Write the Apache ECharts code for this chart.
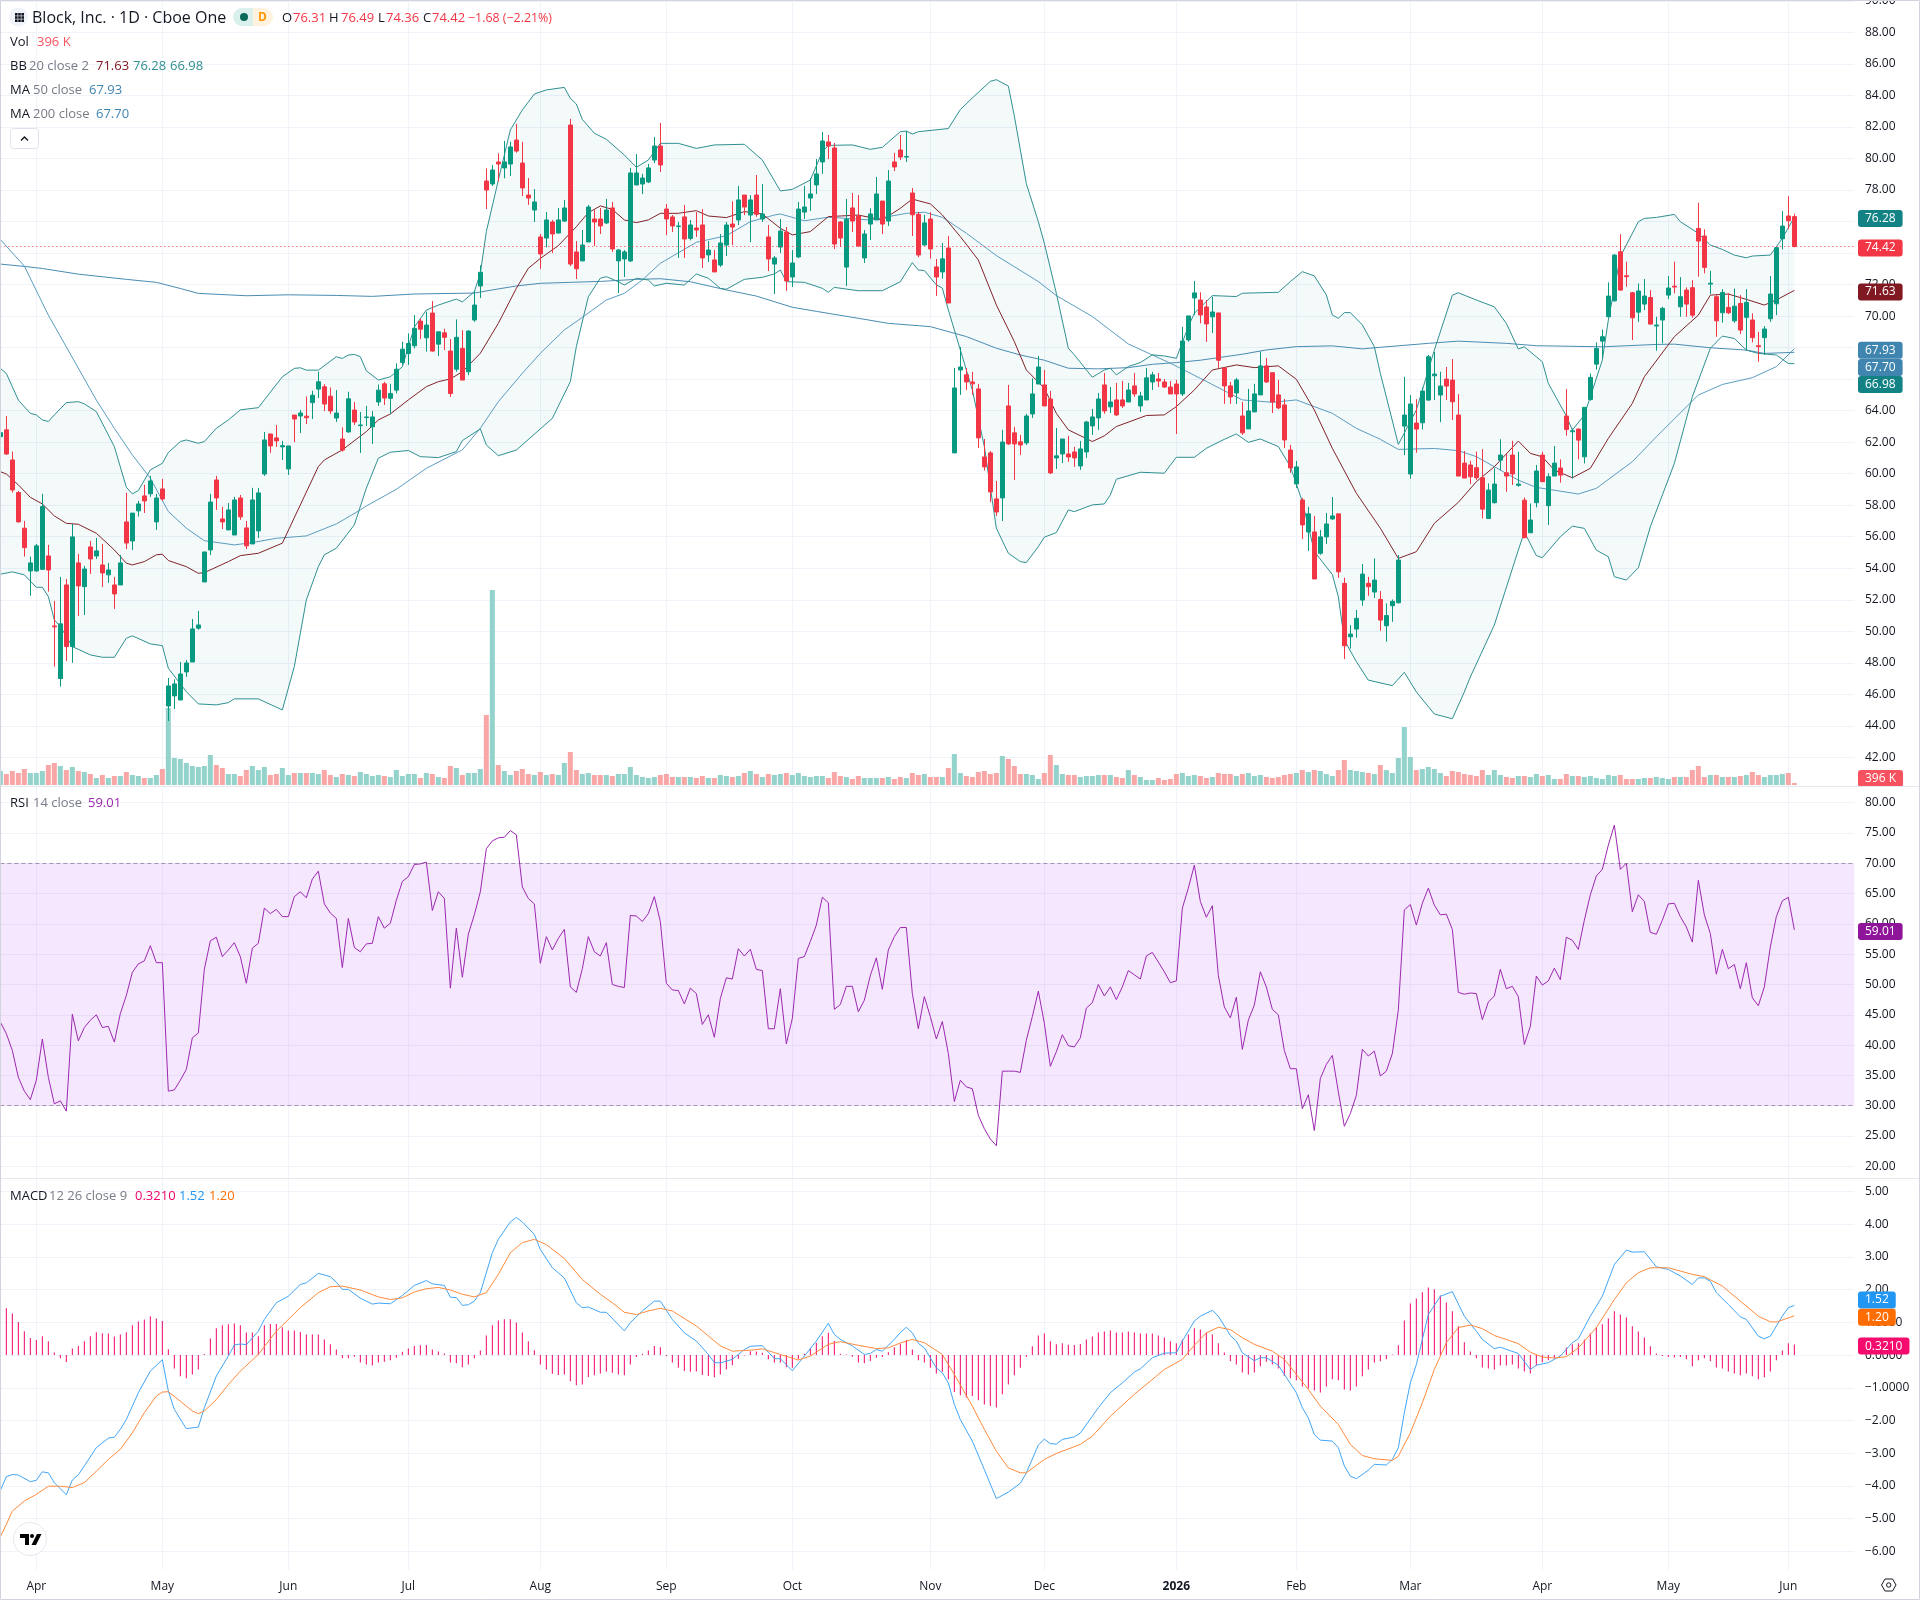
<!DOCTYPE html>
<html>
<head>
<meta charset="utf-8">
<title>Block, Inc. daily chart</title>
<style>html,body{margin:0;padding:0;background:#fff}#chart{width:1920px;height:1600px}</style>
<script src="https://cdn.jsdelivr.net/npm/echarts@6/dist/echarts.min.js"></script>
</head>
<body>
<div id="chart"></div>
<script>
// Daily session prices, oldest first.
const opens = [62.35,62.78,60.87,58.8,56.54,53.83,53.83,53.93,54.78,50.34,
47.0,52.94,49.03,54.34,52.83,55.35,54.78,54.21,53.58,52.94,
52.94,56.94,55.73,57.64,58.59,58.72,56.94,59.03,45.26,45.9,
45.64,47.42,48.05,50.2,53.13,55.16,59.6,57.13,56.43,56.11,
58.46,56.56,55.54,56.37,59.98,62.52,62.27,61.7,60.3,63.72,
63.66,63.65,64.51,65.37,65.51,64.92,63.53,62.2,62.65,64.04,
63.05,63.56,62.97,64.55,65.7,64.78,65.3,67.06,67.63,68.12,
69.68,68.62,70.19,68.22,68.94,67.78,66.63,67.95,66.47,69.75,
71.91,78.57,78.38,79.78,79.4,79.65,81.17,79.71,77.68,76.73,
75.02,74.95,75.97,75.27,76.03,82.12,74.07,73.5,74.7,76.16,
76.16,75.91,76.86,73.5,73.62,73.5,78.32,78.38,78.51,79.9,
80.79,76.79,76.29,75.68,76.29,74.93,75.59,75.78,73.88,73.56,
73.24,74.51,75.84,76.1,77.68,76.41,77.68,76.16,75.02,73.3,
74.38,75.33,72.48,73.75,76.6,77.49,78.32,79.78,81.05,80.67,
75.97,73.11,76.86,76.35,73.69,75.84,76.1,77.3,76.03,79.78,
80.54,80.09,77.81,76.46,74.51,76.16,73.12,72.8,74.32,61.32,
66.58,66.27,65.82,65.38,61.06,61.32,58.4,58.46,64.3,62.59,
62.02,61.95,63.79,65.69,65.63,64.74,61.0,61.25,61.25,61.38,
60.49,61.38,63.03,63.54,65.63,64.24,64.68,64.68,64.55,65.57,
64.3,64.68,65.82,66.01,65.82,65.5,65.69,65.06,68.49,71.15,
71.02,70.58,69.95,70.2,66.71,65.57,65.12,63.66,62.84,63.92,
65.0,66.84,66.41,65.0,64.36,61.5,59.35,58.33,56.3,56.3,
54.95,55.99,57.13,57.45,53.04,49.65,50.14,51.98,53.04,52.49,
52.02,50.35,51.62,51.81,63.02,59.98,63.21,63.23,64.67,66.21,
64.99,66.0,65.94,63.72,60.67,60.55,60.38,59.74,57.16,58.16,
60.86,60.06,61.18,59.26,58.32,56.25,58.16,61.18,57.97,59.85,
60.36,63.66,62.66,62.83,61.07,64.71,66.95,68.41,69.96,70.97,
74.08,72.56,71.48,70.25,70.76,71.18,69.37,69.75,71.33,71.9,
70.59,71.65,71.8,75.56,75.08,72.03,71.23,70.21,70.55,69.7,
70.8,69.92,69.75,68.12,68.63,69.83,70.78,74.91,76.35,76.31];
const highs = [62.9,63.66,61.4,58.9,57.0,54.74,55.54,58.72,55.48,51.93,
53.45,53.32,56.81,54.91,54.15,55.73,55.92,55.54,54.34,53.45,
54.84,58.78,57.5,58.27,59.29,59.86,58.72,59.67,47.04,46.95,
48.05,48.18,50.78,51.29,55.05,58.72,59.86,57.89,58.14,58.53,
58.65,57.0,59.1,59.1,62.65,62.52,63.09,62.08,61.76,63.72,
64.04,64.9,65.26,66.47,65.68,65.47,65.3,62.94,65.2,64.55,
63.91,64.3,63.98,65.66,65.83,65.7,67.0,68.37,68.9,70.06,
69.85,70.27,70.95,69.0,69.2,68.54,69.79,69.1,69.1,71.61,
73.22,79.37,79.59,80.33,81.11,81.07,82.19,81.05,78.76,78.06,
75.21,76.6,76.1,76.86,77.37,82.51,74.76,75.46,77.05,76.73,
76.86,77.43,77.24,74.26,74.19,79.4,80.28,79.02,79.65,81.36,
82.25,77.11,76.41,75.97,77.05,76.1,76.6,76.79,74.76,74.19,
75.21,75.97,77.28,78.26,77.68,77.68,78.95,78.38,75.78,73.81,
76.16,75.65,74.19,77.24,78.26,78.76,79.97,81.68,81.49,80.98,
76.03,77.43,77.81,77.68,75.46,76.84,78.83,77.3,79.27,80.35,
81.49,81.74,78.13,76.6,76.42,76.59,73.63,74.64,75.09,66.71,
68.04,66.71,66.46,65.7,62.2,61.44,59.54,62.78,65.63,62.97,
62.46,63.8,66.05,67.47,66.58,65.25,62.9,62.2,62.4,61.7,
62.08,63.35,64.11,65.12,66.39,65.5,65.76,65.88,65.76,66.39,
65.19,66.71,66.46,66.39,66.01,65.88,65.95,69.31,70.01,72.23,
71.51,71.02,71.22,70.2,66.71,65.82,66.08,64.55,65.38,65.7,
67.75,67.34,66.41,65.95,64.74,61.82,60.81,58.46,57.89,57.32,
56.43,57.51,58.52,57.45,53.4,50.39,51.35,54.27,53.46,54.62,
52.55,51.77,52.02,54.84,66.15,64.99,64.73,65.47,67.53,67.72,
66.47,66.77,67.27,65.05,61.44,60.82,61.4,61.56,59.38,60.34,
62.19,61.24,62.09,61.39,58.49,58.11,60.55,61.39,60.02,61.75,
60.91,65.37,62.87,62.87,64.23,66.36,68.33,69.15,72.14,73.93,
75.2,73.45,71.54,72.07,72.35,71.65,69.96,70.59,72.54,73.45,
72.47,71.82,72.28,77.19,75.5,72.88,71.33,71.71,71.44,71.75,
71.33,71.71,70.17,69.0,69.37,72.54,74.4,76.66,77.61,76.49];
const lows = [62.2,61.19,58.8,56.9,54.74,52.26,53.79,53.89,52.52,47.76,
46.49,48.12,48.0,50.97,51.03,53.64,54.59,52.81,53.07,51.42,
52.94,55.22,55.16,57.28,57.51,58.53,56.43,58.27,44.31,45.07,
45.64,47.1,48.05,50.1,53.13,54.84,57.7,56.49,56.43,56.11,
57.07,55.22,55.54,55.92,59.86,61.32,61.7,60.87,59.92,62.0,
62.58,63.15,63.47,64.8,63.98,63.79,63.28,61.4,62.6,63.09,
61.32,63.03,61.89,64.3,64.36,63.79,65.09,66.9,66.9,67.95,
68.54,67.74,67.74,67.46,67.85,64.87,66.47,65.94,66.25,69.64,
71.15,76.79,78.25,78.53,78.74,78.89,80.37,77.62,77.05,75.97,
73.0,74.36,74.0,75.25,75.97,73.18,72.35,73.5,74.7,74.45,
75.21,75.84,74.07,71.46,72.48,73.43,78.32,77.75,78.44,79.71,
79.14,75.14,75.33,73.69,73.69,74.8,75.02,73.05,73.43,72.8,
73.12,73.81,74.51,75.78,76.41,74.7,76.3,75.97,72.86,71.4,
74.0,71.6,71.85,73.69,76.16,76.67,77.75,79.02,79.97,74.26,
74.4,71.9,75.33,74.4,73.37,74.83,76.1,75.21,75.72,79.2,
79.9,79.78,75.08,73.73,74.47,73.65,71.28,72.38,70.83,61.32,
65.0,65.3,65.0,61.63,60.2,58.19,57.32,57.0,61.82,59.6,
61.19,61.82,63.54,65.69,64.3,59.98,60.3,60.68,60.75,60.43,
60.24,61.0,62.46,62.78,63.8,63.85,63.66,64.17,64.55,64.87,
63.92,64.68,65.31,65.5,65.44,65.06,62.52,64.93,68.38,70.07,
69.54,68.36,68.93,66.71,64.43,64.43,64.43,62.46,62.84,63.92,
65.0,65.76,63.85,64.1,61.63,60.05,59.1,55.86,55.1,53.32,
54.85,55.54,57.07,53.39,48.24,48.9,49.59,51.62,52.25,52.11,
50.03,49.34,50.6,51.77,61.18,59.68,61.33,62.8,64.63,64.67,
63.27,64.67,63.4,59.85,59.72,59.34,59.6,57.16,57.12,58.1,
60.23,58.85,59.28,59.17,55.9,56.25,57.86,59.49,56.74,59.85,
59.43,62.41,59.7,60.91,60.65,64.63,66.6,67.3,69.92,70.91,
71.61,71.86,68.48,69.64,70.38,69.49,67.8,68.27,71.08,71.44,
69.96,69.96,69.89,72.5,72.71,71.4,68.69,69.58,70.13,69.58,
68.86,67.84,68.33,67.1,67.53,69.64,70.06,74.23,75.52,74.36];
const closes = [62.6,61.25,58.97,56.94,55.31,54.34,55.42,57.91,53.89,50.28,
50.47,49.03,55.99,52.88,53.95,54.59,55.1,53.7,53.89,52.37,
54.34,55.6,57.5,58.08,58.27,59.54,58.46,58.4,46.53,46.66,
47.29,47.99,50.15,50.4,55.03,58.2,58.46,56.94,57.7,58.33,
57.26,55.42,58.33,58.78,62.14,61.76,62.08,61.78,61.76,63.47,
63.85,63.55,64.98,65.83,64.42,63.98,63.85,61.5,64.75,63.28,
63.09,63.6,63.6,65.3,64.8,65.09,66.63,67.9,68.26,69.22,
69.17,69.43,67.78,69.0,68.65,65.09,68.65,65.94,69.05,70.7,
72.78,78.0,79.27,79.65,79.78,80.73,80.47,78.13,77.49,77.24,
73.94,76.1,75.21,76.1,76.86,73.3,73.0,74.51,76.92,75.97,
75.72,76.73,74.26,74.19,74.07,79.08,79.08,78.76,79.4,80.79,
79.59,76.16,75.72,75.72,74.89,75.78,75.46,73.69,74.19,72.8,
74.64,75.78,75.65,77.37,76.92,77.37,76.46,76.48,73.62,73.69,
75.4,72.23,73.37,76.79,76.92,77.75,79.02,81.11,80.79,74.57,
74.95,76.14,76.03,74.45,75.21,76.48,77.75,75.84,78.57,79.46,
80.09,80.13,76.43,73.88,75.91,74.26,72.48,73.63,70.83,65.44,
66.77,65.82,65.7,62.27,60.43,58.84,57.57,62.01,61.89,61.89,
61.82,63.66,65.06,66.77,64.3,60.05,61.13,62.2,61.06,61.0,
61.57,63.28,63.6,64.74,63.98,64.55,63.73,64.3,65.31,65.06,
64.93,66.08,66.27,65.88,65.5,65.06,65.06,68.42,70.01,71.47,
70.07,69.5,70.26,67.2,65.57,64.87,65.95,62.59,63.98,65.06,
66.84,65.82,64.55,64.17,62.14,60.36,60.43,56.75,57.45,53.32,
55.99,56.81,57.32,53.77,49.08,49.82,50.82,53.63,52.83,53.25,
50.71,51.0,51.9,54.52,63.72,64.42,62.83,65.24,67.42,66.32,
65.56,65.56,64.56,59.85,59.72,59.81,59.74,57.75,58.96,59.34,
61.18,59.85,59.98,59.34,55.94,57.06,60.17,59.49,59.81,60.67,
59.91,62.81,62.72,62.13,64.21,66.11,67.95,68.69,71.27,73.87,
71.65,72.5,69.89,71.59,71.27,69.49,69.43,70.49,71.78,71.84,
71.23,70.76,70.06,74.76,73.09,72.09,69.7,71.5,70.21,70.63,
69.11,70.87,68.63,68.06,69.18,71.4,74.34,75.71,76.05,74.42];

// Share volume per session, in millions.
const volumes = [2.8,2.2,2.8,2.4,3.2,2.4,2.4,2.8,4,4.4,
3.8,3,3.6,2.8,2.6,2.2,1.4,2,1.4,1.8,
1.8,2.6,2,1.8,1.4,1.4,2,3.2,15.4,5.4,
5.2,4.4,3.8,3.6,3.8,6,4,3.4,2.2,2.2,
1.8,3,3.8,3,3.6,2,2.2,3.4,2,2.4,
2.4,2.4,2.4,2.2,3,2,1.6,2.2,2,1.8,
2.6,2.2,1.8,2,1.8,1.6,3,1.8,2.2,2.2,
1.4,2.4,2.2,1.6,1.4,3.8,3.4,2,2.4,2.4,
3.2,14,39,4,2.8,2,2.8,3.2,2.2,2,
2.6,2,2.2,2,4.4,6.6,3,2.2,2.4,2,
2,2,1.8,2.2,2.2,3.6,2,1.6,1.4,1.6,
2,2.2,1.6,1.6,1.6,1.6,1.4,1.8,1.4,1.4,
2,1.8,1.6,1.8,2.4,2.8,2.2,1.6,2.2,2,
2.2,2.4,2,2.4,1.8,1.6,1.8,1.8,1.4,2.6,
1.8,1.6,1.2,1.8,1.4,1.4,1.4,1.4,1.6,1.2,
1.6,1.4,2.4,2,2.2,1.6,1.6,1.6,3.4,6.2,
2.4,1.8,1.6,2.6,2.8,2.2,2.4,5.8,5.2,3.8,
2.2,2.2,2,1.2,2.4,6,4,2.2,2,2,
1.6,1.8,1.8,2,2,2,1.6,1.4,3,2,
1.6,1,1,1.4,1,1.2,2.2,2.4,1.8,2,
1.8,1.4,1.6,2.4,2.2,2.2,1.8,2.2,2.4,1.8,
2,1.6,1.4,1.6,2,2.2,2.4,3,2.6,3,
2.8,2.2,1.8,3,5,3,2.8,2.6,2.4,2.2,
4,3,2.4,5.4,11.6,5.6,3,3.2,3.6,3.2,
2.4,1.8,2.8,2.6,2.2,2,1.8,3,2,3,
2,1.6,1.4,1.8,1.8,1.6,2.2,1.8,2,1.2,
1.2,2.2,1.8,1.8,1.6,1.8,1.4,1.2,2,1.8,
2,1.2,1.2,1.2,1.4,1.4,1.6,1.4,1.2,1.6,
1.6,1.6,3,3.8,1.6,2,2,1.6,1.6,1.6,
1.8,2,2.6,2,1.6,2,2,2.2,2.4,0.396];

// Overlay vertices as [session index, level].
const bbUpper = [[0,66.68],[1,66.36],[2,65.52],[3,64.67],[5,63.83],[6,63.73],[7,63.41],[8,63.31],[9,63.73],[11,64.51],[13,64.57],[14,64.43],[16,63.94],[19,61.72],[21,59.14],[22,58.72],[23,58.93],[25,60.24],[27,60.66],[28,61.34],[30,62.04],[31,62.14],[33,61.93],[34,62.04],[36,62.88],[38,63.41],[40,64.05],[43,64.19],[44,64.68],[47,66.15],[49,66.68],[50,66.72],[51,66.57],[53,66.57],[56,67.42],[57,67.31],[58,67.53],[59,67.57],[60,67.42],[61,66.53],[63,65.94],[65,66.15],[67,66.78],[69,69.3],[71,70.38],[73,70.7],[76,71.08],[77,70.9],[79,71.55],[80,72.71],[81,75.36],[83,78.63],[85,81.81],[87,83.08],[89,84.09],[91,84.35],[94,84.51],[95,83.82],[96,83.46],[97,82.48],[99,81.6],[101,81.22],[104,80.22],[106,79.44],[108,79.9],[110,80.96],[113,80.96],[116,80.64],[119,80.86],[124,80.9],[127,79.9],[130,77.94],[132,78.04],[135,78.63],[137,80.43],[138,80.83],[142,80.86],[145,80.58],[147,80.71],[150,81.7],[151,81.74],[152,81.55],[153,81.7],[158,81.9],[160,83.1],[162,83.84],[165,84.9],[166,85.0],[168,84.6],[169,82.7],[171,78.4],[173,75.99],[174,74.62],[176,71.45],[178,67.96],[179,67.54],[182,66.12],[184,66.58],[185,66.69],[186,66.27],[188,66.8],[190,67.05],[192,67.54],[194,67.47],[196,67.32],[198,69.33],[199,70.18],[202,71.3],[206,71.24],[207,71.45],[213,71.51],[215,72.19],[217,72.82],[219,72.55],[221,71.34],[222,70.07],[223,69.86],[224,70.22],[225,70.22],[227,69.44],[229,68.06],[230,66.37],[233,61.86],[236,64.04],[239,67.84],[242,71.33],[243,71.48],[246,71.02],[249,70.59],[251,69.54],[253,67.91],[254,68.05],[257,67.1],[258,65.73],[261,63.66],[262,62.77],[264,63.72],[265,64.88],[267,67.21],[268,69.75],[270,73.77],[273,75.99],[274,76.2],[276,76.26],[279,76.45],[280,75.99],[283,75.25],[285,74.51],[287,74.23],[289,73.87],[291,73.7],[292,73.81],[295,73.87],[297,74.93],[299,76.28]];
const bbMiddle = [[0,60.13],[1,59.98],[3,59.29],[5,58.5],[7,58.08],[9,57.32],[11,56.85],[13,56.79],[16,56.22],[19,55.16],[21,54.32],[22,54.21],[24,54.42],[26,54.85],[27,54.89],[28,54.49],[31,54.1],[33,53.68],[34,53.72],[38,54.42],[40,54.8],[43,54.95],[47,55.59],[53,60.45],[54,60.87],[57,61.51],[61,62.67],[63,63.41],[65,63.79],[68,64.68],[71,65.52],[73,65.84],[75,66.01],[77,66.47],[80,67.64],[83,69.54],[86,71.76],[88,73.03],[90,73.66],[93,74.47],[96,75.67],[98,76.56],[100,76.99],[102,76.77],[104,76.1],[106,75.93],[108,76.1],[110,76.52],[113,76.52],[116,76.69],[118,76.35],[121,76.25],[124,76.63],[127,76.48],[130,75.57],[132,75.15],[135,75.36],[138,76.31],[143,76.41],[147,76.1],[150,76.84],[152,77.43],[153,77.32],[155,77.12],[157,76.42],[160,75.04],[163,73.56],[166,70.71],[169,68.38],[171,66.58],[174,65.42],[176,63.83],[178,62.78],[182,62.04],[184,62.4],[186,62.99],[191,63.69],[194,63.73],[196,64.26],[199,65.31],[202,66.58],[206,66.9],[209,66.73],[213,66.84],[216,65.99],[219,64.04],[222,61.61],[226,58.76],[230,56.54],[233,54.62],[236,55.05],[239,56.85],[243,58.18],[246,59.49],[249,60.44],[253,62.07],[255,61.29],[257,61.07],[259,60.23],[262,59.74],[265,60.34],[268,62.24],[272,64.46],[274,66.15],[279,68.69],[283,70.06],[285,71.33],[288,71.4],[291,71.06],[294,70.7],[296,71.02],[299,71.63]];
const bbLower = [[0,53.62],[2,53.77],[4,53.58],[6,52.79],[7,52.79],[8,52.2],[9,50.72],[10,50.3],[12,49.03],[15,48.5],[17,48.35],[19,48.35],[21,49.56],[22,49.71],[25,49.2],[27,49.09],[28,47.65],[31,46.17],[33,45.39],[36,45.33],[38,45.47],[39,45.71],[43,45.71],[47,45.01],[49,47.76],[51,51.99],[53,54.1],[54,54.85],[56,55.27],[59,56.75],[61,59.08],[63,60.98],[65,61.36],[68,61.47],[70,61.08],[73,61.02],[76,61.4],[77,62.1],[80,62.84],[81,61.82],[83,61.14],[86,61.5],[92,63.51],[95,65.84],[96,68.06],[98,71.23],[100,72.4],[101,72.5],[103,72.18],[104,71.97],[106,72.4],[108,72.29],[109,71.91],[111,72.08],[114,71.97],[116,72.67],[118,72.4],[120,71.76],[121,71.7],[124,72.33],[127,72.46],[129,72.67],[130,72.92],[131,72.18],[134,72.14],[137,71.76],[138,71.51],[139,71.82],[143,71.61],[147,71.61],[150,72.18],[152,73.39],[153,72.92],[154,72.89],[156,71.98],[157,71.77],[158,70.39],[160,67.85],[162,65.31],[164,61.72],[166,56.54],[168,54.95],[170,54.42],[171,54.36],[173,55.37],[174,55.97],[176,56.26],[178,57.7],[179,57.59],[182,58.02],[184,58.08],[185,58.65],[186,59.65],[190,60.09],[194,60.03],[196,61.04],[199,61.04],[201,61.61],[204,62.18],[206,62.52],[208,61.99],[210,62.2],[213,61.72],[215,60.45],[217,58.23],[219,55.06],[222,53.6],[223,52.19],[224,49.44],[226,48.07],[228,46.9],[232,46.55],[234,47.4],[236,46.15],[239,44.75],[242,44.45],[244,46.15],[245,47.1],[249,50.4],[253,55.15],[254,56.3],[256,54.8],[257,54.67],[260,56.0],[262,56.67],[264,56.53],[266,55.15],[268,54.73],[269,53.46],[271,53.25],[273,54.03],[275,56.63],[279,60.65],[282,64.88],[285,67.95],[287,68.73],[289,68.58],[291,67.84],[293,67.63],[294,67.6],[296,67.53],[298,66.99],[299,66.98]];
const ma50 = [[0,74.86],[4,73.17],[8,70.06],[16,64.67],[19,62.88],[22,61.19],[25,59.71],[28,57.6],[31,56.54],[34,55.75],[39,55.48],[42,55.63],[46,55.9],[51,56.05],[56,56.81],[60,57.7],[61,57.95],[66,59.01],[71,60.34],[77,61.51],[80,62.88],[83,64.57],[87,66.37],[90,67.64],[94,69.12],[97,69.92],[101,71.02],[104,71.44],[107,72.29],[110,73.35],[116,74.68],[121,75.1],[125,75.99],[129,76.41],[130,76.48],[134,76.05],[138,76.27],[145,76.1],[151,76.52],[154,76.59],[157,76.27],[161,75.26],[166,73.84],[173,72.19],[176,71.3],[182,69.97],[188,68.23],[195,67.01],[200,66.05],[207,64.68],[212,64.53],[216,64.68],[222,63.83],[226,62.88],[230,62.18],[233,61.54],[239,61.6],[243,61.46],[246,61.08],[249,60.44],[253,59.59],[256,59.13],[263,58.71],[266,59.07],[272,60.76],[276,62.34],[283,64.99],[287,65.66],[292,66.09],[296,66.79],[299,67.93]];
const ma200 = [[0,73.3],[4,73.15],[7,73.02],[13,72.66],[21,72.33],[26,72.14],[30,71.75],[33,71.44],[41,71.29],[48,71.35],[56,71.31],[62,71.25],[69,71.4],[79,71.46],[82,71.66],[86,71.91],[90,72.08],[95,72.14],[100,72.2],[106,72.33],[110,72.37],[115,72.18],[121,71.66],[126,71.27],[132,70.56],[136,70.3],[143,69.86],[148,69.54],[153,69.39],[155,69.33],[161,68.7],[166,67.96],[170,67.53],[174,67.2],[178,66.69],[183,66.65],[188,66.73],[192,66.94],[196,67.05],[200,67.2],[207,67.58],[211,67.85],[216,68.06],[222,68.11],[227,67.92],[230,68.02],[238,68.27],[243,68.41],[251,68.27],[256,68.12],[267,68.05],[276,68.2],[279,68.22],[285,67.99],[291,67.84],[294,67.63],[299,67.7]];

// Relative strength, one reading per session.
const rsi = [43.8,41.9,39.1,34.7,32.4,31.0,34.2,41.0,34.7,30.3,
30.8,29.1,45.1,40.7,42.9,44.1,45.0,42.9,43.1,40.5,
45.2,48.2,52.0,53.4,53.9,56.4,53.6,53.6,32.4,32.6,
34.2,36.0,41.2,42.0,52.5,57.2,57.8,54.6,55.7,56.9,
54.6,50.2,56.0,56.8,62.6,61.7,62.4,61.2,61.2,64.5,
65.3,64.3,67.4,68.7,63.3,61.8,60.9,52.8,60.9,56.1,
55.4,56.7,56.8,61.2,59.3,60.1,63.9,67.0,67.8,69.8,
69.9,70.2,62.2,65.3,64.2,49.4,59.3,51.2,58.3,61.5,
65.3,72.4,73.7,74.2,74.3,75.4,74.7,66.1,64.2,63.3,
53.5,57.9,55.7,57.6,59.1,49.6,48.7,52.6,57.9,55.4,
54.7,56.9,50.0,49.7,49.5,61.4,61.3,60.4,61.7,64.5,
60.4,50.2,49.1,49.0,46.8,49.4,48.5,43.4,45.0,41.3,
47.7,51.1,50.9,55.9,54.7,55.8,52.5,52.3,42.7,42.7,
49.3,40.2,44.4,54.3,54.6,57.1,59.8,64.4,63.5,45.9,
46.7,49.7,49.7,45.5,47.4,51.5,54.4,49.2,55.7,57.9,
59.4,59.4,48.5,42.7,48.0,44.7,41.0,43.9,38.6,30.7,
34.2,33.1,32.8,28.4,26.2,24.5,23.4,35.7,35.7,35.7,
35.5,40.8,44.7,48.9,43.6,36.5,38.9,41.7,39.9,39.7,
41.2,46.1,47.0,50.0,48.1,49.6,47.5,49.6,52.3,51.6,
50.9,54.7,55.3,53.7,52.1,50.3,50.6,62.6,65.9,69.7,
63.7,61.1,63.0,51.5,46.3,44.5,47.9,39.3,44.1,46.6,
52.1,49.6,45.9,45.0,39.1,36.1,36.1,29.5,31.8,25.9,
34.5,36.8,38.3,32.3,26.6,28.7,31.7,39.3,38.2,39.0,
34.9,35.7,38.6,45.8,62.3,63.2,59.8,63.4,65.9,63.1,
61.5,61.6,59.1,48.7,48.4,48.6,48.5,44.2,47.1,48.1,
52.5,49.3,49.7,48.0,40.1,43.1,51.4,49.9,50.6,52.7,
50.8,57.8,57.3,55.8,60.6,64.8,67.9,69.0,73.0,76.3,
69.0,70.0,62.0,64.8,63.7,58.6,58.3,60.6,63.3,63.4,
61.2,59.5,57.0,67.2,61.5,58.4,51.7,55.8,52.6,53.3,
49.3,53.6,47.8,46.5,49.6,56.2,61.2,63.8,64.4,59.01];

// MACD line vertices and signal line vertices as [session index, level].
const macdLine = [[0,-4.14],[1,-3.72],[2,-3.65],[3,-3.67],[5,-3.87],[6,-3.83],[7,-3.57],[8,-3.6],[9,-3.9],[11,-4.27],[12,-3.82],[13,-3.66],[14,-3.39],[16,-2.83],[18,-2.54],[19,-2.51],[20,-2.27],[21,-1.97],[23,-1.15],[25,-0.49],[27,-0.14],[28,-1.1],[29,-1.66],[31,-2.25],[33,-2.2],[34,-1.61],[36,-0.64],[38,-0.03],[39,0.31],[40,0.34],[41,0.32],[43,0.73],[44,1.09],[46,1.6],[48,1.8],[50,2.16],[51,2.21],[53,2.5],[55,2.4],[56,2.23],[57,2.01],[58,2.01],[60,1.74],[62,1.56],[63,1.59],[65,1.57],[67,1.82],[69,2.13],[71,2.28],[72,2.18],[74,2.13],[75,1.77],[76,1.76],[77,1.52],[78,1.54],[79,1.65],[80,1.91],[82,3.13],[83,3.54],[85,4.07],[86,4.21],[87,4.07],[89,3.69],[90,3.23],[92,2.67],[94,2.36],[96,1.6],[97,1.45],[98,1.47],[100,1.31],[101,1.31],[104,0.74],[105,0.99],[107,1.35],[109,1.65],[110,1.65],[112,1.09],[114,0.68],[116,0.43],[118,0.02],[119,-0.23],[120,-0.24],[122,-0.13],[124,0.17],[125,0.27],[127,0.29],[128,0.09],[129,-0.11],[130,-0.11],[132,-0.48],[134,-0.03],[136,0.43],[138,0.97],[139,0.63],[140,0.48],[142,0.28],[144,0.02],[145,0.05],[146,0.17],[147,0.12],[149,0.48],[150,0.69],[151,0.85],[152,0.68],[153,0.36],[154,0.22],[156,-0.39],[157,-0.54],[158,-0.85],[159,-1.51],[160,-1.97],[162,-2.63],[164,-3.5],[166,-4.39],[168,-4.19],[170,-3.92],[171,-3.6],[173,-2.75],[174,-2.57],[175,-2.71],[176,-2.72],[177,-2.58],[179,-2.5],[180,-2.38],[182,-1.87],[183,-1.61],[185,-1.15],[187,-0.85],[189,-0.52],[190,-0.42],[192,-0.08],[194,0.06],[196,0.07],[197,0.43],[199,1.04],[200,1.19],[202,1.37],[203,1.19],[205,0.6],[206,0.43],[207,0.07],[209,-0.17],[210,-0.08],[211,-0.08],[213,-0.31],[215,-0.87],[216,-1.15],[217,-1.61],[218,-1.92],[219,-2.43],[220,-2.6],[222,-2.63],[223,-2.83],[224,-3.39],[225,-3.7],[226,-3.78],[228,-3.52],[229,-3.34],[231,-3.36],[232,-3.19],[233,-2.83],[234,-1.76],[235,-0.85],[236,-0.29],[237,0.48],[238,1.24],[240,1.8],[242,1.94],[244,1.19],[246,0.73],[247,0.48],[249,0.2],[250,0.24],[253,0.05],[255,-0.44],[256,-0.31],[258,-0.23],[260,-0.03],[262,0.38],[263,0.5],[265,1.19],[267,1.8],[269,2.77],[271,3.21],[272,3.15],[274,3.16],[276,2.7],[278,2.62],[280,2.42],[282,2.16],[283,2.36],[284,2.36],[285,2.26],[286,1.91],[288,1.55],[290,1.17],[291,1.09],[293,0.58],[294,0.5],[295,0.58],[297,1.19],[298,1.45],[299,1.52]];
const signalLine = [[0,-5.56],[1,-5.18],[2,-4.77],[4,-4.46],[6,-4.26],[8,-4.01],[10,-4.01],[12,-4.05],[14,-3.9],[16,-3.55],[18,-3.19],[20,-2.88],[22,-2.38],[24,-1.76],[26,-1.25],[27,-1.13],[28,-1.12],[30,-1.41],[32,-1.71],[33,-1.79],[34,-1.71],[36,-1.36],[38,-0.9],[40,-0.49],[43,0.02],[46,0.73],[50,1.45],[53,1.91],[55,2.09],[57,2.11],[60,1.99],[63,1.78],[65,1.7],[67,1.75],[69,1.93],[71,2.03],[73,2.07],[75,1.99],[77,1.86],[79,1.78],[81,1.91],[83,2.47],[85,3.13],[87,3.44],[89,3.54],[91,3.38],[94,2.95],[97,2.31],[100,1.86],[102,1.6],[104,1.31],[106,1.24],[108,1.35],[110,1.43],[112,1.35],[116,0.89],[120,0.28],[122,0.12],[125,0.15],[127,0.19],[130,0.02],[133,-0.15],[135,-0.03],[138,0.33],[140,0.41],[143,0.3],[146,0.2],[148,0.22],[150,0.37],[152,0.48],[154,0.38],[157,0.02],[159,-0.59],[162,-1.56],[164,-2.27],[166,-2.94],[168,-3.45],[170,-3.6],[171,-3.6],[174,-3.19],[176,-3.01],[180,-2.73],[182,-2.48],[185,-1.87],[189,-1.2],[194,-0.44],[197,-0.13],[199,0.3],[201,0.68],[203,0.85],[205,0.78],[207,0.53],[209,0.33],[212,0.12],[214,-0.13],[216,-0.59],[218,-1.05],[220,-1.56],[223,-2.12],[225,-2.73],[227,-3.07],[229,-3.17],[232,-3.22],[233,-3.09],[235,-2.38],[237,-1.46],[239,-0.44],[241,0.38],[243,0.84],[245,0.92],[247,0.81],[249,0.6],[253,0.35],[255,0.09],[257,-0.06],[259,-0.09],[261,-0.05],[263,0.22],[266,0.84],[269,1.7],[271,2.21],[273,2.52],[275,2.67],[278,2.67],[280,2.57],[282,2.47],[284,2.4],[287,2.11],[290,1.65],[293,1.19],[295,1.02],[296,1.01],[299,1.2]];
const macdHist = [1.5,1.43,1.27,1.01,0.73,0.52,0.46,0.58,0.42,0.08,
-0.1,-0.21,0.2,0.28,0.42,0.58,0.7,0.67,0.66,0.57,
0.63,0.7,0.91,1.03,1.09,1.19,1.12,1.04,0.18,-0.41,
-0.65,-0.71,-0.59,-0.44,0.03,0.51,0.82,0.91,0.94,0.97,
0.91,0.69,0.69,0.58,0.91,0.95,0.95,0.85,0.75,0.75,
0.71,0.63,0.63,0.63,0.48,0.33,0.17,-0.1,-0.1,-0.05,
-0.23,-0.29,-0.32,-0.23,-0.2,-0.16,-0.08,0.1,0.2,0.28,
0.3,0.31,0.17,0.11,0.05,-0.23,-0.25,-0.37,-0.29,-0.1,
0.14,0.6,0.91,1.06,1.1,1.1,1.0,0.69,0.42,0.15,
-0.29,-0.44,-0.57,-0.61,-0.59,-0.8,-0.92,-0.9,-0.67,-0.62,
-0.56,-0.51,-0.54,-0.59,-0.62,-0.29,-0.06,0.04,0.14,0.28,
0.24,-0.03,-0.23,-0.39,-0.49,-0.51,-0.5,-0.61,-0.64,-0.68,
-0.59,-0.44,-0.31,-0.11,-0.01,0.12,0.11,0.07,-0.13,-0.23,
-0.23,-0.37,-0.39,-0.13,0.04,0.2,0.38,0.58,0.68,0.43,
0.04,0.02,-0.05,-0.23,-0.25,-0.18,-0.08,-0.06,0.09,0.24,
0.35,0.46,0.17,-0.16,-0.23,-0.39,-0.56,-0.51,-0.74,-1.13,
-1.23,-1.3,-1.25,-1.38,-1.51,-1.56,-1.6,-1.2,-0.9,-0.62,
-0.39,-0.06,0.27,0.6,0.66,0.42,0.33,0.36,0.32,0.31,
0.34,0.48,0.57,0.69,0.72,0.75,0.69,0.69,0.72,0.69,
0.66,0.66,0.66,0.6,0.54,0.42,0.36,0.48,0.63,0.82,
0.78,0.69,0.63,0.36,0.08,-0.19,-0.29,-0.53,-0.59,-0.53,
-0.34,-0.2,-0.29,-0.41,-0.64,-0.71,-0.77,-0.96,-1.02,-1.08,
-1.14,-0.96,-0.74,-0.77,-1.05,-1.08,-0.96,-0.65,-0.44,-0.23,
-0.19,-0.13,0.02,0.3,1.06,1.58,1.73,1.92,2.07,2.01,
1.82,1.61,1.34,0.88,0.39,0.11,-0.1,-0.38,-0.41,-0.44,
-0.32,-0.32,-0.29,-0.41,-0.5,-0.56,-0.32,-0.22,-0.16,-0.1,
-0.03,0.23,0.33,0.36,0.48,0.66,0.85,0.94,1.12,1.34,
1.24,1.15,0.88,0.72,0.54,0.27,0.05,-0.03,-0.06,-0.07,
-0.06,-0.13,-0.34,-0.16,-0.1,-0.19,-0.38,-0.41,-0.5,-0.56,
-0.62,-0.56,-0.65,-0.74,-0.68,-0.5,-0.16,0.14,0.36,0.321];

// Time axis month marks, as session index and name.
const monthMarks = [[6,'Apr'],[27,'May'],[48,'Jun'],[68,'Jul'],[90,'Aug'],[111,'Sep'],[132,'Oct'],[155,'Nov'],[174,'Dec'],[196,'2026'],[216,'Feb'],[235,'Mar'],[257,'Apr'],[278,'May'],[298,'Jun']];
const sessionCount = 310; // 300 sessions plus blank space on the right
const categories = Array.from({length: sessionCount}, () => '');
monthMarks.forEach(([i, name]) => { categories[i] = name; });

const lastPrice = 74.42;

// Value tags on the right: where each tag sits on its scale and what it reads.
const priceTags = [[76.28, '76.28', 'teal'], [74.42, '74.42', 'last'], [71.63, '71.63', 'mid'], [67.93, '67.93', 'ma'], [66.83, '67.70', 'ma'], [65.75, '66.98', 'teal']];
const volTags = [[1.6, '396 K', 'vol']];
const rsiTags = [[59.01, '59.01', 'rsi']];
const macdTags = [[1.73, '1.52', 'blue'], [1.2, '1.20', 'orange'], [0.321, '0.3210', 'pink']];

const UP = '#089981', DOWN = '#f23645';
const VOL_UP = '#93d3cb', VOL_DOWN = '#f9a6a6';
const TEAL = '#2f8f90', MID = '#80232a', MA_50 = '#5b9cc0', MA_200 = '#4a8cb3';
const RSI_LINE = '#9c27b0', MACD_BLUE = '#2196f3', MACD_ORANGE = '#ff6d00', HIST = '#f0046c';
const GRIDLINE = '#f0f3fa', INK = '#131722', MUTED = '#787b86';
const FONT = '"Open Sans", sans-serif';

const tagStyle = bg => ({backgroundColor: bg, color: '#fff', fontFamily: FONT, fontSize: 12, height: 17, lineHeight: 17, padding: [0, 7], borderRadius: 3});
const tagRich = {
  teal: tagStyle('#138285'), last: tagStyle('#f23645'), mid: tagStyle('#801922'), ma: tagStyle('#3f85b0'),
  vol: tagStyle('#f7525f'), rsi: tagStyle('#8e1599'),
  blue: tagStyle('#2196f3'), orange: tagStyle('#ff6d00'), pink: tagStyle('#f50a6e')
};

const grids = [
  {left: 0.33, top: 1, width: 1854, height: 1569, outerBoundsMode: 'none'},
  {left: 0.33, top: 0.88, width: 1854, height: 788, outerBoundsMode: 'none'},
  {left: 0.33, top: 585, width: 1854, height: 200, outerBoundsMode: 'none'},
  {left: 0.33, top: 802.7, width: 1854, height: 363.6, outerBoundsMode: 'none'},
  {left: 0.33, top: 1191.6, width: 1854, height: 359.7, outerBoundsMode: 'none'}
];

const monthLabel = v => v === '2026' ? '{b|2026}' : v;
const xAxes = grids.map((g, i) => i === 0 ? ({
  type: 'category', gridIndex: 0, data: categories, boundaryGap: false,
  axisLine: {show: false}, axisTick: {show: false},
  splitLine: {show: true, interval: idx => categories[idx] !== '', lineStyle: {color: GRIDLINE, width: 1}},
  axisLabel: {
    show: true, interval: idx => categories[idx] !== '', margin: 11, color: INK, fontFamily: FONT, fontSize: 12,
    formatter: monthLabel, rich: {b: {fontWeight: 'bold', color: INK, fontFamily: FONT, fontSize: 12}}
  }
}) : ({
  type: 'category', gridIndex: i, data: categories, boundaryGap: false, show: false
}));

const tickAxis = (gridIndex, min, max, interval, fmt) => ({
  type: 'value', gridIndex, position: 'right', min, max, interval, z: 1,
  axisLine: {show: false}, axisTick: {show: false},
  splitLine: {show: true, lineStyle: {color: GRIDLINE, width: 1}},
  axisLabel: {color: INK, fontFamily: FONT, fontSize: 12, margin: 10.6, padding: [2, 0, 0, 0], formatter: fmt}
});
// A tag is matched to its slot by value, so the label text stays independent of tick order.
const tagAxis = (gridIndex, min, max, tags) => ({
  type: 'value', gridIndex, position: 'right', min, max, z: 10,
  axisLine: {show: false}, axisTick: {show: false}, splitLine: {show: false},
  axisLabel: {
    show: true, customValues: tags.map(t => t[0]), margin: 3.67, padding: [3, 0, 0, 0], rich: tagRich,
    formatter: v => {
      const tag = tags.reduce((a, b) => Math.abs(b[0] - v) < Math.abs(a[0] - v) ? b : a);
      return `{${tag[2]}|${tag[1]}}`;
    }
  }
});
const signed = d => v => (v < 0 ? '\u2212' : '') + Math.abs(v).toFixed(d);

const yAxes = [
  {type: 'value', gridIndex: 0, min: 0, max: 1, show: false},
  tickAxis(1, 40, 90, 2, v => v.toFixed(2)),
  tagAxis(1, 40, 90, priceTags),
  tagAxis(2, 0, 40, volTags),
  tickAxis(3, 20, 80, 5, v => v.toFixed(2)),
  tagAxis(3, 20, 80, rsiTags),
  tickAxis(4, -6, 5, 1, v => Math.abs(v) <= 1 ? signed(4)(v) : signed(2)(v)),
  tagAxis(4, -6, 5, macdTags)
];
yAxes[1].axisLabel.showMinLabel = false;
yAxes[1].splitLine.showMinLine = false;

const overlay = (name, data, color) => ({
  name, type: 'line', xAxisIndex: 1, yAxisIndex: 1, data, symbol: 'none', silent: true, z: 2,
  lineStyle: {color, width: 1}
});
const xyLine = (name, data, color, xi, yi, z) => ({
  name, type: 'line', xAxisIndex: xi, yAxisIndex: yi, data, symbol: 'none', silent: true, z: z || 3,
  lineStyle: {color, width: 1}
});

const candles = opens.map((o, i) => [o, closes[i], lows[i], highs[i]]);
const rsiPairs = rsi.map((v, i) => [i, v]);

const series = [
  {
    name: 'BB fill', type: 'custom', xAxisIndex: 1, yAxisIndex: 1, data: [[0, 60]], silent: true, z: 1,
    encode: {x: 0, y: 1}, clip: true,
    renderItem: (params, api) => ({
      type: 'polygon',
      shape: {points: bbUpper.concat(bbLower.slice().reverse()).map(p => api.coord(p))},
      style: {fill: 'rgba(34,146,146,0.05)', stroke: 'none'}
    })
  },
  overlay('MA 200', ma200, MA_200),
  overlay('MA 50', ma50, MA_50),
  overlay('BB upper', bbUpper, TEAL),
  overlay('BB lower', bbLower, TEAL),
  overlay('BB basis', bbMiddle, MID),
  {
    name: 'Block, Inc.', type: 'candlestick', xAxisIndex: 1, yAxisIndex: 1, data: candles, barWidth: 5, z: 3, silent: true,
    itemStyle: {color: UP, color0: DOWN, borderColor: UP, borderColor0: DOWN, borderWidth: 1},
    markLine: {
      silent: true, symbol: 'none', label: {show: false}, animation: false,
      lineStyle: {color: DOWN, width: 1, type: [1, 3]},
      data: [{yAxis: lastPrice}]
    }
  },
  {
    name: 'Vol', type: 'bar', xAxisIndex: 2, yAxisIndex: 3, barWidth: 5, silent: true, z: 1,
    data: volumes.map((v, i) => ({value: v, itemStyle: {color: closes[i] >= opens[i] ? VOL_UP : VOL_DOWN}}))
  },
  {
    name: 'RSI', type: 'line', xAxisIndex: 3, yAxisIndex: 4, data: rsiPairs, symbol: 'none', silent: true, z: 3,
    lineStyle: {color: RSI_LINE, width: 1},
    markArea: {silent: true, itemStyle: {color: 'rgba(156,39,250,0.105)'}, data: [[{yAxis: 70}, {yAxis: 30}]]},
    markLine: {
      silent: true, symbol: 'none', label: {show: false},
      lineStyle: {color: 'rgba(120,90,130,0.6)', width: 1, type: [4, 3]},
      data: [{yAxis: 70}, {yAxis: 30}]
    }
  },
  {
    name: 'Histogram', type: 'bar', xAxisIndex: 4, yAxisIndex: 6, data: macdHist, barWidth: 1, silent: true, z: 1,
    itemStyle: {color: HIST}
  },
  xyLine('MACD', macdLine, '#42a5f5', 4, 6, 3),
  xyLine('Signal', signalLine, '#ff8a3c', 4, 6, 3)
];

// Header, legend rows and small icons.
const txt = (x, y, text, fill, size, weight) => ({
  type: 'text', silent: true, z: 50,
  style: {x, y, text, fill, font: `${weight || 'normal'} ${size || 13}px ${FONT}`, verticalAlign: 'middle'}
});
const box = (x, y, w, h, fill, r) => ({type: 'rect', silent: true, z: 50, shape: {x, y, width: w, height: h, r: r || 0}, style: {fill}});
const RED_TXT = '#f23645', VOL_TXT = '#f7525f';
const graphics = [
  // outer frame and pane dividers
  {type: 'rect', silent: true, z: 60, shape: {x: 0.5, y: 0.5, width: 1919, height: 1599}, style: {fill: 'none', stroke: '#d1d4dc', lineWidth: 1}},
  box(0, 786, 1920, 1, '#e6e8ee'),
  box(0, 1178, 1920, 1, '#e6e8ee'),
  // title row
  {type: 'circle', silent: true, z: 50, shape: {cx: 18.5, cy: 17, r: 9.5}, style: {fill: '#f0f3fa'}},
  ...[0, 1, 2].flatMap(a => [0, 1, 2].map(b => box(15 + a * 3.2, 13 + b * 3.2, 2.6, 2.6, INK))),
  txt(32, 18, 'Block, Inc. \u00b7 1D \u00b7 Cboe One', INK, 16),
  box(233, 8, 20, 18, '#d9f0ec', 9), box(243, 8, 10, 18, '#d9f0ec'),
  box(253, 8, 20, 18, '#fff3e0', 9), box(253, 8, 10, 18, '#fff3e0'),
  {type: 'circle', silent: true, z: 51, shape: {cx: 244, cy: 17, r: 4}, style: {fill: '#0a6a5a'}},
  txt(258, 18, 'D', '#ff9800', 12, 'bold'),
  txt(282, 18, 'O', INK), txt(293, 18, '76.31', RED_TXT),
  txt(329, 18, 'H', INK), txt(341, 18, '76.49', RED_TXT),
  txt(378, 18, 'L', INK), txt(386, 18, '74.36', RED_TXT),
  txt(423, 18, 'C', INK), txt(432, 18, '74.42', RED_TXT),
  txt(468, 18, '\u22121.68 (\u22122.21%)', RED_TXT, 12.4),
  // indicator legend rows
  txt(10, 42.5, 'Vol', INK), txt(37, 42.5, '396 K', VOL_TXT),
  txt(10, 66.5, 'BB', INK), txt(29, 66.5, '20 close 2', MUTED), txt(96, 66.5, '71.63', '#801922'), txt(133, 66.5, '76.28', TEAL), txt(170, 66.5, '66.98', TEAL),
  txt(10, 90.5, 'MA', INK), txt(33, 90.5, '50 close', MUTED), txt(89, 90.5, '67.93', '#3f85b0'),
  txt(10, 114.5, 'MA', INK), txt(33, 114.5, '200 close', MUTED), txt(96, 114.5, '67.70', '#3f85b0'),
  {type: 'rect', silent: true, z: 50, shape: {x: 10.5, y: 128.5, width: 28, height: 20, r: 3}, style: {fill: '#fff', stroke: '#e0e3eb', lineWidth: 1}},
  {type: 'polyline', silent: true, z: 51, shape: {points: [[21, 140.5], [24.5, 137], [28, 140.5]]}, style: {fill: 'none', stroke: INK, lineWidth: 1.4}},
  txt(10, 803.6, 'RSI', INK), txt(33, 803.6, '14 close', MUTED), txt(88, 803.6, '59.01', RSI_LINE),
  txt(10, 1196, 'MACD', INK), txt(49, 1196, '12 26 close 9', MUTED), txt(135, 1196, '0.3210', HIST), txt(179, 1196, '1.52', MACD_BLUE), txt(209, 1196, '1.20', MACD_ORANGE),
  // logo badge
  {type: 'circle', silent: true, z: 50, shape: {cx: 30, cy: 1539, r: 16.5}, style: {fill: '#fff', stroke: '#e6e8ee', lineWidth: 1}},
  {type: 'polygon', silent: true, z: 51, shape: {points: [[20, 1534], [29, 1534], [29, 1545], [25, 1545], [25, 1538], [20, 1538]]}, style: {fill: '#000'}},
  {type: 'circle', silent: true, z: 51, shape: {cx: 32, cy: 1536, r: 2}, style: {fill: '#000'}},
  {type: 'polygon', silent: true, z: 51, shape: {points: [[37, 1534], [41.5, 1534], [36, 1545], [31.5, 1545]]}, style: {fill: '#000'}},
  // settings glyph
  {type: 'polygon', silent: true, z: 50, shape: {points: [[1881.5, 1585], [1885, 1579], [1892.5, 1579], [1896, 1585], [1892.5, 1591], [1885, 1591]]}, style: {fill: 'none', stroke: INK, lineWidth: 1}},
  {type: 'circle', silent: true, z: 50, shape: {cx: 1888.7, cy: 1585, r: 2.2}, style: {fill: 'none', stroke: INK, lineWidth: 1}}
];

const chart = echarts.init(document.getElementById('chart'), null, {renderer: 'canvas', width: 1920, height: 1600});
chart.setOption({
  animation: false,
  backgroundColor: '#ffffff',
  textStyle: {fontFamily: FONT},
  grid: grids,
  xAxis: xAxes,
  yAxis: yAxes,
  series,
  graphic: {elements: graphics}
});
</script>
</body>
</html>
